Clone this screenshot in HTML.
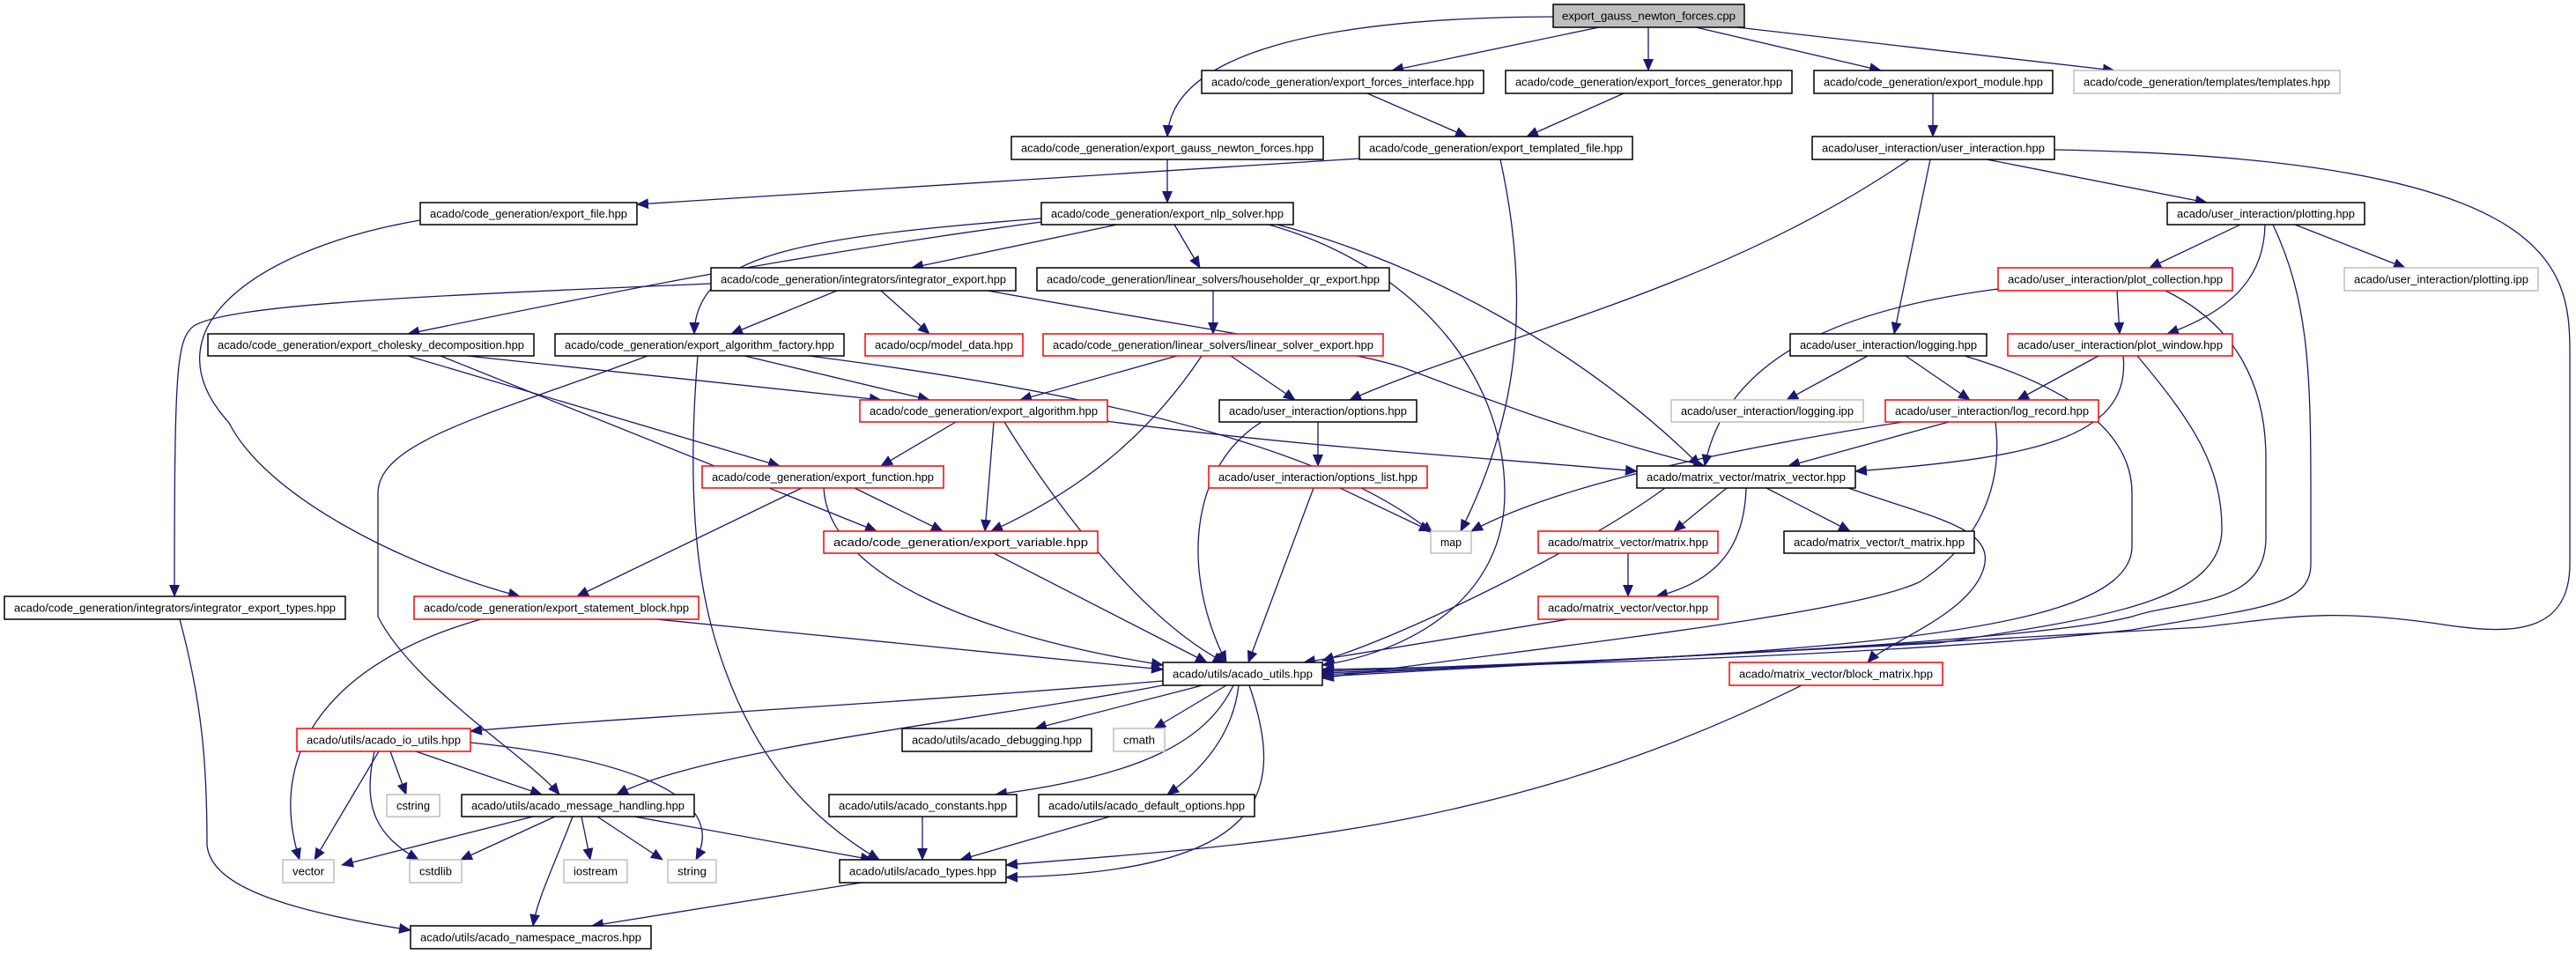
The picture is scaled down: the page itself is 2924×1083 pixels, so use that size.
<!DOCTYPE html>
<html><head><meta charset="utf-8"><style>html,body{margin:0;padding:0;background:#fff}svg{display:block}</style></head><body>
<svg width="2924" height="1083" viewBox="0 0 2924 1083" xmlns="http://www.w3.org/2000/svg">
<defs><marker id="a" markerUnits="userSpaceOnUse" markerWidth="14" markerHeight="12" refX="13" refY="6" orient="auto"><path d="M0,0 L14,6 L0,12 z" fill="#191970"/></marker></defs>
<g fill="none" stroke="#191970" stroke-width="1.3" marker-end="url(#a)">
<path d="M1763,19 C1500,20 1330,60 1325,155"/>
<path d="M1815,31 L1580,80"/>
<path d="M1871,31 L1871,80"/>
<path d="M1925,31 L2135,80"/>
<path d="M1972,31 L2400,80"/>
<path d="M1552,106 L1665,155"/>
<path d="M1843,106 L1733,155"/>
<path d="M2194,106 L2194,155"/>
<path d="M1325,181 L1325,230"/>
<path d="M1543,180 L723,232"/>
<path d="M1703,181 C1740,350 1720,480 1658,603"/>
<path d="M2167,181 C1950,330 1700,380 1532,454"/>
<path d="M2191,181 L2150,379"/>
<path d="M2255,181 L2505,230"/>
<path d="M2332,170 C2900,180 2917,300 2917,400 L2917,640 C2917,720 2850,720 2780,710 C2650,690 2600,700 2500,712 L1501,768"/>
<path d="M477,250 C300,280 160,370 260,480 C300,560 450,640 590,677"/>
<path d="M1182,252 C900,290 700,330 463,379"/>
<path d="M1182,248 C900,270 790,290 788,379"/>
<path d="M1268,255 L1035,304"/>
<path d="M1333,255 L1362,304"/>
<path d="M1440,255 C1600,300 1708,420 1708,560 C1708,680 1600,740 1501,755"/>
<path d="M1450,255 C1620,300 1800,400 1930,529"/>
<path d="M807,322 C500,335 260,345 220,370 C200,385 198,420 198,677"/>
<path d="M950,330 L830,379"/>
<path d="M1000,330 L1055,379"/>
<path d="M1121,330 C1400,380 1550,400 1600,420 C1680,450 1780,490 1935,529"/>
<path d="M1377,330 L1377,379"/>
<path d="M530,404 L1000,454"/>
<path d="M500,404 L995,603"/>
<path d="M463,404 L885,529"/>
<path d="M845,404 L1055,454"/>
<path d="M735,404 C560,470 429,500 429,560 L429,700 C470,780 600,860 635,902"/>
<path d="M792,404 C780,550 790,650 810,720 C850,860 920,930 998,976"/>
<path d="M918,404 C1200,440 1500,500 1626,605"/>
<path d="M1336,404 L1158,454"/>
<path d="M1364,404 C1300,500 1220,560 1125,603"/>
<path d="M1397,404 L1470,454"/>
<path d="M1085,479 L1000,529"/>
<path d="M1128,479 L1118,603"/>
<path d="M1140,479 C1190,560 1290,700 1390,752"/>
<path d="M1255,478 C1500,510 1700,520 1858,535"/>
<path d="M1496,479 L1496,529"/>
<path d="M1432,479 C1350,530 1340,650 1392,752"/>
<path d="M1491,554 L1417,752"/>
<path d="M1521,554 L1624,603"/>
<path d="M910,554 L655,677"/>
<path d="M970,554 L1070,603"/>
<path d="M935,554 C940,650 1100,720 1320,755"/>
<path d="M1128,628 L1370,752"/>
<path d="M546,703 C380,750 300,850 340,976"/>
<path d="M745,703 L1320,760"/>
<path d="M2543,255 L2440,304"/>
<path d="M2571,255 C2570,310 2540,350 2460,379"/>
<path d="M2605,255 L2730,304"/>
<path d="M2580,255 C2620,340 2623,420 2623,560 L2623,640 C2623,690 2560,690 2420,715 C2200,740 1800,755 1501,760"/>
<path d="M2403,330 L2406,379"/>
<path d="M2268,328 C2100,350 1960,400 1935,529"/>
<path d="M2458,330 C2540,370 2572,440 2572,520 L2572,610 C2572,690 2480,680 2420,700 C2300,730 1800,752 1501,762"/>
<path d="M2120,404 L2028,454"/>
<path d="M2163,404 L2236,454"/>
<path d="M2230,404 C2350,440 2420,490 2420,560 L2420,620 C2420,680 2300,710 2100,730 C1900,750 1600,760 1501,764"/>
<path d="M2382,404 L2290,454"/>
<path d="M2410,404 C2420,500 2300,520 2106,535"/>
<path d="M2426,404 C2490,480 2522,530 2522,600 C2522,680 2400,700 2200,730 L1501,766"/>
<path d="M2160,479 C1900,520 1750,560 1670,603"/>
<path d="M2212,479 L2030,529"/>
<path d="M2265,479 C2275,560 2240,620 2180,660 C2100,700 1700,740 1501,770"/>
<path d="M1960,554 L1900,603"/>
<path d="M1982,554 C1980,620 1950,660 1880,677"/>
<path d="M2005,554 L2100,603"/>
<path d="M2098,554 C2200,590 2270,600 2250,650 C2230,700 2140,730 2120,752"/>
<path d="M1890,554 C1800,620 1600,720 1501,750"/>
<path d="M1848,628 L1848,677"/>
<path d="M1780,703 L1480,752"/>
<path d="M2045,778 C1700,950 1400,960 1142,982"/>
<path d="M1320,773 C1000,800 700,815 534,830"/>
<path d="M1320,778 C1100,820 800,850 700,902"/>
<path d="M1365,778 L1175,827"/>
<path d="M1392,778 L1310,827"/>
<path d="M1400,778 C1370,840 1300,880 1130,902"/>
<path d="M1406,778 C1400,830 1370,870 1325,902"/>
<path d="M1418,778 C1460,900 1440,990 1142,996"/>
<path d="M443,853 L461,902"/>
<path d="M472,853 L615,902"/>
<path d="M430,853 L357,976"/>
<path d="M425,853 C410,920 430,950 475,976"/>
<path d="M534,843 C700,860 830,900 790,976"/>
<path d="M605,927 L388,982"/>
<path d="M630,927 L523,976"/>
<path d="M660,927 L670,976"/>
<path d="M678,927 L752,976"/>
<path d="M650,927 C630,980 610,1020 605,1051"/>
<path d="M720,927 L990,976"/>
<path d="M1047,927 L1047,976"/>
<path d="M1260,927 L1090,976"/>
<path d="M978,1002 L672,1051"/>
<path d="M204,703 C230,800 235,870 235,960 C240,1000 300,1030 466,1056"/>
</g>
<g font-family="Liberation Sans, sans-serif" font-size="13" text-anchor="middle" fill="#000">
<!-- node helper: rect + text -->
<rect x="1763" y="5" width="217" height="26" fill="#bfbfbf" stroke="#000" stroke-width="1.5"/><text x="1871.5" y="22.5" textLength="197" lengthAdjust="spacingAndGlyphs">export_gauss_newton_forces.cpp</text>
<g fill="#fff" stroke="#000" stroke-width="1.5">
<rect x="1364" y="80" width="320" height="26"/><rect x="1709" y="80" width="325" height="26"/><rect x="2059" y="80" width="271" height="26"/>
<rect x="1148" y="155" width="354" height="26"/><rect x="1543" y="155" width="310" height="26"/><rect x="2057" y="155" width="275" height="26"/>
<rect x="477" y="230" width="246" height="25"/><rect x="1182" y="230" width="286" height="25"/><rect x="2460" y="230" width="224" height="25"/>
<rect x="807" y="304" width="346" height="26"/><rect x="1177" y="304" width="400" height="26"/>
<rect x="236" y="379" width="370" height="25"/><rect x="630" y="379" width="328" height="25"/><rect x="2032" y="379" width="223" height="25"/>
<rect x="1384" y="454" width="224" height="25"/><rect x="1858" y="529" width="248" height="25"/><rect x="2025" y="603" width="216" height="25"/>
<rect x="5" y="677" width="387" height="26"/><rect x="1320" y="752" width="181" height="26"/><rect x="1024" y="827" width="215" height="26"/>
<rect x="524" y="902" width="264" height="25"/><rect x="941" y="902" width="213" height="25"/><rect x="1179" y="902" width="245" height="25"/>
<rect x="953" y="976" width="189" height="26"/><rect x="466" y="1051" width="273" height="26"/>
</g>
<g fill="#fff" stroke="#ff0000" stroke-width="1.5">
<rect x="2268" y="304" width="266" height="26"/><rect x="982" y="379" width="179" height="25"/><rect x="1184" y="379" width="386" height="25"/>
<rect x="2279" y="379" width="255" height="25"/><rect x="976" y="454" width="281" height="25"/><rect x="2140" y="454" width="242" height="25"/>
<rect x="797" y="529" width="274" height="25"/><rect x="1372" y="529" width="248" height="25"/><rect x="935" y="603" width="311" height="25"/>
<rect x="1746" y="603" width="204" height="25"/><rect x="470" y="677" width="323" height="26"/><rect x="1746" y="677" width="204" height="26"/>
<rect x="1963" y="752" width="242" height="26"/><rect x="337" y="827" width="197" height="26"/>
</g>
<g fill="#fff" stroke="#bfbfbf" stroke-width="1.5">
<rect x="2354" y="80" width="302" height="26"/><rect x="2661" y="304" width="220" height="26"/><rect x="1897" y="454" width="218" height="25"/>
<rect x="1624" y="603" width="46" height="25"/><rect x="1264" y="827" width="58" height="26"/><rect x="439" y="902" width="60" height="25"/>
<rect x="321" y="976" width="58" height="26"/><rect x="465" y="976" width="59" height="26"/><rect x="640" y="976" width="72" height="26"/><rect x="758" y="976" width="55" height="26"/>
</g>
<g lengthAdjust="spacingAndGlyphs">
<text x="1524" y="97.5" textLength="298" lengthAdjust="spacingAndGlyphs">acado/code_generation/export_forces_interface.hpp</text>
<text x="1871.5" y="97.5" textLength="303" lengthAdjust="spacingAndGlyphs">acado/code_generation/export_forces_generator.hpp</text>
<text x="2194.5" y="97.5" textLength="249" lengthAdjust="spacingAndGlyphs">acado/code_generation/export_module.hpp</text>
<text x="2505" y="97.5" textLength="280" lengthAdjust="spacingAndGlyphs">acado/code_generation/templates/templates.hpp</text>
<text x="1325" y="172.5" textLength="332" lengthAdjust="spacingAndGlyphs">acado/code_generation/export_gauss_newton_forces.hpp</text>
<text x="1698" y="172.5" textLength="288" lengthAdjust="spacingAndGlyphs">acado/code_generation/export_templated_file.hpp</text>
<text x="2194.5" y="172.5" textLength="253" lengthAdjust="spacingAndGlyphs">acado/user_interaction/user_interaction.hpp</text>
<text x="600" y="247" textLength="224" lengthAdjust="spacingAndGlyphs">acado/code_generation/export_file.hpp</text>
<text x="1325" y="247" textLength="264" lengthAdjust="spacingAndGlyphs">acado/code_generation/export_nlp_solver.hpp</text>
<text x="2572" y="247" textLength="202" lengthAdjust="spacingAndGlyphs">acado/user_interaction/plotting.hpp</text>
<text x="980" y="321.5" textLength="324" lengthAdjust="spacingAndGlyphs">acado/code_generation/integrators/integrator_export.hpp</text>
<text x="1377" y="321.5" textLength="378" lengthAdjust="spacingAndGlyphs">acado/code_generation/linear_solvers/householder_qr_export.hpp</text>
<text x="2401" y="321.5" textLength="244" lengthAdjust="spacingAndGlyphs">acado/user_interaction/plot_collection.hpp</text>
<text x="2771" y="321.5" textLength="198" lengthAdjust="spacingAndGlyphs">acado/user_interaction/plotting.ipp</text>
<text x="421" y="396" textLength="348" lengthAdjust="spacingAndGlyphs">acado/code_generation/export_cholesky_decomposition.hpp</text>
<text x="794" y="396" textLength="306" lengthAdjust="spacingAndGlyphs">acado/code_generation/export_algorithm_factory.hpp</text>
<text x="1071.5" y="396" textLength="157" lengthAdjust="spacingAndGlyphs">acado/ocp/model_data.hpp</text>
<text x="1377" y="396" textLength="364" lengthAdjust="spacingAndGlyphs">acado/code_generation/linear_solvers/linear_solver_export.hpp</text>
<text x="2143.5" y="396" textLength="201" lengthAdjust="spacingAndGlyphs">acado/user_interaction/logging.hpp</text>
<text x="2406.5" y="396" textLength="233" lengthAdjust="spacingAndGlyphs">acado/user_interaction/plot_window.hpp</text>
<text x="1116.5" y="471" textLength="259" lengthAdjust="spacingAndGlyphs">acado/code_generation/export_algorithm.hpp</text>
<text x="1496" y="471" textLength="202" lengthAdjust="spacingAndGlyphs">acado/user_interaction/options.hpp</text>
<text x="2006" y="471" textLength="196" lengthAdjust="spacingAndGlyphs">acado/user_interaction/logging.ipp</text>
<text x="2261" y="471" textLength="220" lengthAdjust="spacingAndGlyphs">acado/user_interaction/log_record.hpp</text>
<text x="934" y="546" textLength="252" lengthAdjust="spacingAndGlyphs">acado/code_generation/export_function.hpp</text>
<text x="1496" y="546" textLength="226" lengthAdjust="spacingAndGlyphs">acado/user_interaction/options_list.hpp</text>
<text x="1982" y="546" textLength="226" lengthAdjust="spacingAndGlyphs">acado/matrix_vector/matrix_vector.hpp</text>
<text x="1090.5" y="620" textLength="289" lengthAdjust="spacingAndGlyphs">acado/code_generation/export_variable.hpp</text>
<text x="1647" y="620" textLength="24" lengthAdjust="spacingAndGlyphs">map</text>
<text x="1848" y="620" textLength="182" lengthAdjust="spacingAndGlyphs">acado/matrix_vector/matrix.hpp</text>
<text x="2133" y="620" textLength="194" lengthAdjust="spacingAndGlyphs">acado/matrix_vector/t_matrix.hpp</text>
<text x="198.5" y="694.5" textLength="365" lengthAdjust="spacingAndGlyphs">acado/code_generation/integrators/integrator_export_types.hpp</text>
<text x="631.5" y="694.5" textLength="301" lengthAdjust="spacingAndGlyphs">acado/code_generation/export_statement_block.hpp</text>
<text x="1848" y="694.5" textLength="182" lengthAdjust="spacingAndGlyphs">acado/matrix_vector/vector.hpp</text>
<text x="1410.5" y="769.5" textLength="159" lengthAdjust="spacingAndGlyphs">acado/utils/acado_utils.hpp</text>
<text x="2084" y="769.5" textLength="220" lengthAdjust="spacingAndGlyphs">acado/matrix_vector/block_matrix.hpp</text>
<text x="435.5" y="844.5" textLength="175" lengthAdjust="spacingAndGlyphs">acado/utils/acado_io_utils.hpp</text>
<text x="1131.5" y="844.5" textLength="193" lengthAdjust="spacingAndGlyphs">acado/utils/acado_debugging.hpp</text>
<text x="1293" y="844.5" textLength="36" lengthAdjust="spacingAndGlyphs">cmath</text>
<text x="469" y="919" textLength="38" lengthAdjust="spacingAndGlyphs">cstring</text>
<text x="656" y="919" textLength="242" lengthAdjust="spacingAndGlyphs">acado/utils/acado_message_handling.hpp</text>
<text x="1047.5" y="919" textLength="191" lengthAdjust="spacingAndGlyphs">acado/utils/acado_constants.hpp</text>
<text x="1301.5" y="919" textLength="223" lengthAdjust="spacingAndGlyphs">acado/utils/acado_default_options.hpp</text>
<text x="350" y="993.5" textLength="36" lengthAdjust="spacingAndGlyphs">vector</text>
<text x="494.5" y="993.5" textLength="37" lengthAdjust="spacingAndGlyphs">cstdlib</text>
<text x="676" y="993.5" textLength="50" lengthAdjust="spacingAndGlyphs">iostream</text>
<text x="785.5" y="993.5" textLength="33" lengthAdjust="spacingAndGlyphs">string</text>
<text x="1047.5" y="993.5" textLength="167" lengthAdjust="spacingAndGlyphs">acado/utils/acado_types.hpp</text>
<text x="602.5" y="1068.5" textLength="251" lengthAdjust="spacingAndGlyphs">acado/utils/acado_namespace_macros.hpp</text>
</g>
</g>
</svg>
</body></html>
